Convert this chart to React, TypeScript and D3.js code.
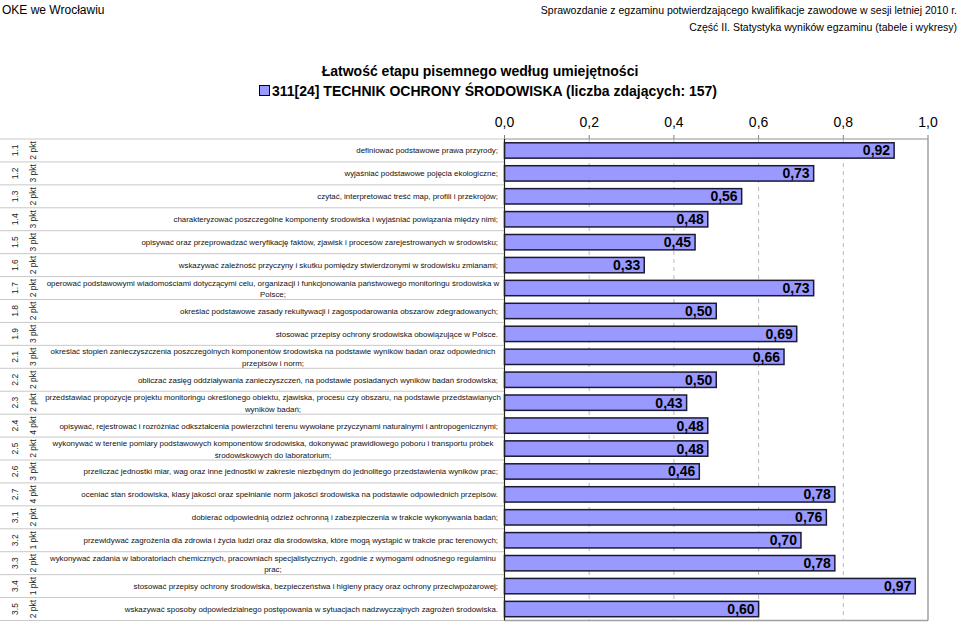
import React from 'react';
import * as d3 from 'd3';

// skill ids, points and descriptions (one row each)
const ids = ['1.1', '1.2', '1.3', '1.4', '1.5', '1.6', '1.7', '1.8', '1.9', '2.1', '2.2', '2.3', '2.4', '2.5', '2.6', '2.7', '3.1', '3.2', '3.3', '3.4', '3.5'];
const points = ['2 pkt', '3 pkt', '2 pkt', '3 pkt', '3 pkt', '2 pkt', '2 pkt', '2 pkt', '3 pkt', '3 pkt', '2 pkt', '2 pkt', '4 pkt', '2 pkt', '3 pkt', '4 pkt', '2 pkt', '1 pkt', '2 pkt', '1 pkt', '2 pkt'];
const descriptions: string[][] = [
  ['definiować podstawowe prawa przyrody;'],
  ['wyjaśniać podstawowe pojęcia ekologiczne;'],
  ['czytać, interpretować treść map, profili i przekrojów;'],
  ['charakteryzować poszczególne komponenty środowiska i wyjaśniać powiązania między nimi;'],
  ['opisywać oraz przeprowadzać weryfikację faktów, zjawisk i procesów zarejestrowanych w środowisku;'],
  ['wskazywać zależność przyczyny i skutku pomiędzy stwierdzonymi w środowisku zmianami;'],
  ['operować podstawowymi wiadomościami dotyczącymi celu, organizacji i funkcjonowania państwowego monitoringu środowiska w', 'Polsce;'],
  ['określać podstawowe zasady rekultywacji i zagospodarowania obszarów zdegradowanych;'],
  ['stosować przepisy ochrony środowiska obowiązujące w Polsce.'],
  ['określać stopień zanieczyszczenia poszczególnych komponentów środowiska na podstawie wyników badań oraz odpowiednich', 'przepisów i norm;'],
  ['obliczać zasięg oddziaływania zanieczyszczeń, na podstawie posiadanych wyników badań środowiska;'],
  ['przedstawiać propozycje projektu monitoringu określonego obiektu, zjawiska, procesu czy obszaru, na podstawie przedstawianych', 'wyników badań;'],
  ['opisywać, rejestrować i rozróżniać odkształcenia powierzchni terenu wywołane przyczynami naturalnymi i antropogenicznymi;'],
  ['wykonywać w terenie pomiary podstawowych komponentów środowiska, dokonywać prawidłowego poboru i transportu próbek', 'środowiskowych do laboratorium;'],
  ['przeliczać jednostki miar, wag oraz inne jednostki w zakresie niezbędnym do jednolitego przedstawienia wyników prac;'],
  ['oceniać stan środowiska, klasy jakości oraz spełnianie norm jakości środowiska na podstawie odpowiednich przepisów.'],
  ['dobierać odpowiednią odzież ochronną i zabezpieczenia w trakcie wykonywania badań;'],
  ['przewidywać zagrożenia dla zdrowia i życia ludzi oraz dla środowiska, które mogą wystąpić w trakcie prac terenowych;'],
  ['wykonywać zadania w laboratoriach chemicznych, pracowniach specjalistycznych, zgodnie z wymogami odnośnego regulaminu', 'prac;'],
  ['stosować przepisy ochrony środowiska, bezpieczeństwa i higieny pracy oraz ochrony przeciwpożarowej;'],
  ['wskazywać sposoby odpowiedzialnego postępowania w sytuacjach nadzwyczajnych zagrożeń środowiska.'],
];
const values = [0.92, 0.73, 0.56, 0.48, 0.45, 0.33, 0.73, 0.5, 0.69, 0.66, 0.5, 0.43, 0.48, 0.48, 0.46, 0.78, 0.76, 0.7, 0.78, 0.97, 0.6];
const xTicks = [0, 0.2, 0.4, 0.6, 0.8, 1.0];

const title = 'Łatwość etapu pisemnego według umiejętności';
const seriesName = '311[24] TECHNIK OCHRONY ŚRODOWISKA (liczba zdających: 157)';

const W = 960;
const H = 622;
const font = 'Arial, "Liberation Sans", Helvetica, sans-serif';

const pl = d3.formatLocale({ decimal: ',', thousands: ' ', grouping: [3], currency: ['', ''] });
const fmtTick = pl.format('.1f');
const fmtVal = pl.format('.2f');

const App: React.FC = () => {
  const top = 139;
  const bottom = 620.5;
  const x = d3.scaleLinear().domain([0, 1]).range([504.5, 928]);
  const rowY = d3.scaleBand().domain(ids).range([top, bottom]);
  const barY = d3.scaleBand().domain(ids).range([top, bottom]).paddingInner(0.33).paddingOuter(0.165);
  const step = rowY.step();

  return (
    <svg width={W} height={H} style={{ position: 'absolute', left: 0, top: 0, background: '#fff' }} fontFamily={font}>
      {/* page header */}
      <text x={2} y={14} fontSize={12}>OKE we Wrocławiu</text>
      <text x={957} y={14} fontSize={10.5} textAnchor="end">
        Sprawozdanie z egzaminu potwierdzającego kwalifikacje zawodowe w sesji letniej 2010 r.
      </text>
      <text x={957} y={31} fontSize={10.5} textAnchor="end">
        Część II. Statystyka wyników egzaminu  (tabele i wykresy)
      </text>

      {/* title and legend */}
      <text x={480} y={76} fontSize={14} fontWeight="bold" textAnchor="middle">{title}</text>
      <rect x={259.5} y={85.5} width={10} height={10} fill="#9999ff" stroke="#000" strokeWidth={1} />
      <text x={272} y={96} fontSize={14} fontWeight="bold">{seriesName}</text>

      {/* top axis */}
      {xTicks.map(t => (
        <g key={t}>
          <text x={x(t)} y={127} fontSize={14} textAnchor="middle">{fmtTick(t)}</text>
          <line x1={x(t)} x2={x(t)} y1={top - 4} y2={top} stroke="#808080" />
        </g>
      ))}

      {/* table rows */}
      {ids.map((id, i) => {
        const y0 = rowY(id)!;
        const cy = y0 + step / 2;
        const lines = descriptions[i];
        return (
          <g key={id}>
            <line x1={0} x2={x(0)} y1={y0 + step} y2={y0 + step} stroke="#c8c8c8" />
            <text transform={`translate(18,${cy}) rotate(-90)`} fontSize={8.5} textAnchor="middle" fill="#222">{id}</text>
            <text transform={`translate(36,${cy}) rotate(-90)`} fontSize={8.5} textAnchor="middle" fill="#222">{points[i]}</text>
            {lines.length === 1 ? (
              <text x={498} y={cy + 3} fontSize={7.9} textAnchor="end" fill="#111">{lines[0]}</text>
            ) : (
              lines.map((ln, k) => (
                <text key={k} x={273} y={cy - 2.5 + k * 11.5} fontSize={7.9} textAnchor="middle" fill="#111">{ln}</text>
              ))
            )}
          </g>
        );
      })}

      {/* frame */}
      <line x1={0} x2={x(0)} y1={top} y2={top} stroke="#c8c8c8" />
      <line x1={x(0)} x2={x(1)} y1={top} y2={top} stroke="#909090" />
      <line x1={x(1)} x2={x(1)} y1={top} y2={bottom} stroke="#a0a0a0" strokeWidth={1.5} />
      <line x1={x(0)} x2={x(1)} y1={bottom} y2={bottom} stroke="#a0a0a0" strokeWidth={1.5} />

      {/* dashed grid */}
      {xTicks.slice(1, -1).map(t => (
        <line key={t} x1={x(t)} x2={x(t)} y1={top} y2={bottom} stroke="#b8b8b8" strokeDasharray="4,4" />
      ))}

      {/* bars */}
      {ids.map((id, i) => (
        <g key={id}>
          <rect
            x={x(0)}
            y={barY(id)!}
            width={x(values[i]) - x(0)}
            height={barY.bandwidth()}
            fill="#9999ff"
            stroke="#1a1a33"
            strokeWidth={1.5}
          />
          <text
            x={x(values[i]) - 4}
            y={barY(id)! + barY.bandwidth() / 2 + 5}
            fontSize={14}
            fontWeight="bold"
            textAnchor="end"
            fill="#000"
          >
            {fmtVal(values[i])}
          </text>
        </g>
      ))}

      <line x1={x(0)} x2={x(0)} y1={top} y2={bottom} stroke="#222" strokeWidth={1.2} />
    </svg>
  );
};

export default App;
